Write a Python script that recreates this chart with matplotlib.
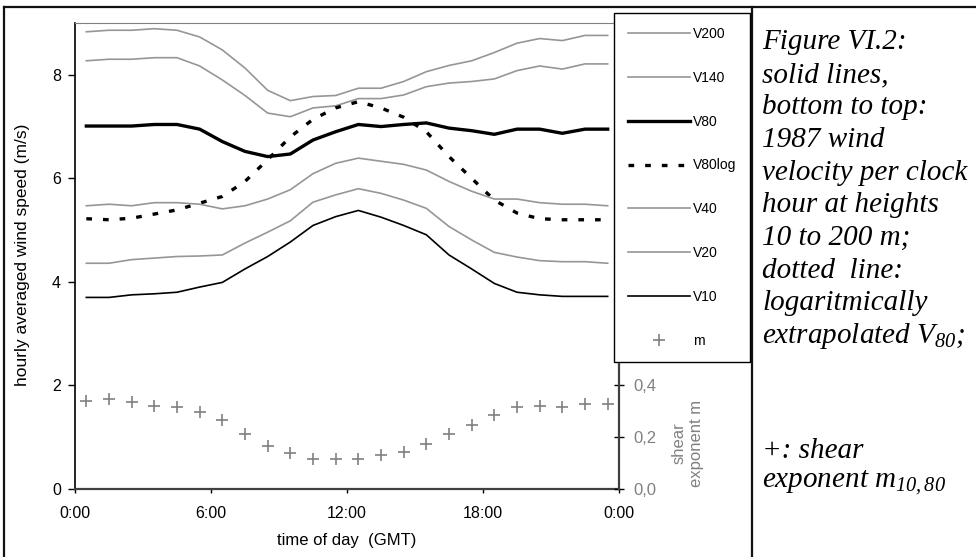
import matplotlib
matplotlib.use("Agg")
import matplotlib.pyplot as plt
from matplotlib.lines import Line2D
import numpy as np

# hourly values, plotted at the middle of each clock hour
hours = np.arange(24) + 0.5

v200 = [8.83, 8.86, 8.86, 8.89, 8.86, 8.73, 8.48, 8.13, 7.70, 7.50, 7.58, 7.60,
        7.74, 7.74, 7.87, 8.06, 8.18, 8.27, 8.43, 8.61, 8.70, 8.66, 8.76, 8.76]
v140 = [8.27, 8.30, 8.30, 8.33, 8.33, 8.17, 7.90, 7.60, 7.26, 7.19, 7.36, 7.40,
        7.54, 7.54, 7.61, 7.77, 7.84, 7.87, 7.92, 8.08, 8.17, 8.11, 8.21, 8.21]
v80 = [7.01, 7.01, 7.01, 7.04, 7.04, 6.95, 6.71, 6.52, 6.42, 6.47, 6.74, 6.90,
       7.04, 7.00, 7.04, 7.07, 6.97, 6.92, 6.85, 6.95, 6.95, 6.87, 6.95, 6.95]
v80log = [5.22, 5.20, 5.23, 5.31, 5.39, 5.52, 5.65, 5.94, 6.36, 6.80, 7.14, 7.36,
          7.48, 7.36, 7.18, 6.90, 6.42, 6.00, 5.58, 5.33, 5.22, 5.20, 5.20, 5.20]
v40 = [5.47, 5.50, 5.47, 5.53, 5.53, 5.50, 5.41, 5.47, 5.60, 5.78, 6.09, 6.29,
       6.39, 6.33, 6.27, 6.16, 5.94, 5.75, 5.60, 5.60, 5.53, 5.50, 5.50, 5.47]
v20 = [4.36, 4.36, 4.43, 4.46, 4.49, 4.50, 4.52, 4.75, 4.96, 5.18, 5.54, 5.68,
       5.80, 5.71, 5.58, 5.42, 5.07, 4.81, 4.57, 4.48, 4.41, 4.39, 4.39, 4.36]
v10 = [3.70, 3.70, 3.75, 3.77, 3.80, 3.90, 3.99, 4.25, 4.49, 4.77, 5.09, 5.26,
       5.38, 5.25, 5.09, 4.91, 4.52, 4.25, 3.97, 3.80, 3.75, 3.72, 3.72, 3.72]
shear_m = [0.341, 0.348, 0.335, 0.322, 0.317, 0.298, 0.267, 0.211, 0.167, 0.138,
           0.116, 0.116, 0.116, 0.131, 0.144, 0.174, 0.211, 0.247, 0.286, 0.316,
           0.322, 0.316, 0.327, 0.327]

xticks = [0, 6, 12, 18, 24]
xticklabels = ["0:00", "6:00", "12:00", "18:00", "0:00"]
yticks = [0, 2, 4, 6, 8]
mticks = [0.0, 0.2, 0.4]
mticklabels = ["0,0", "0,2", "0,4"]

caption = ["Figure VI.2:", "solid lines,", "bottom to top:", "1987 wind",
           "velocity per clock", "hour at heights", "10 to 200 m;",
           "dotted  line:", "logaritmically", r"extrapolated $V_{\mathit{80}}$;",
           "+: shear", r"exponent $m_{\mathit{10,80}}$"]
caption_y = [42, 75, 107, 140, 173, 205, 238, 271, 303, 336, 451, 483]

plt.rcParams["font.family"] = ["Liberation Sans", "DejaVu Sans"]
plt.rcParams["mathtext.fontset"] = "custom"
plt.rcParams["mathtext.rm"] = "Liberation Serif:italic"
plt.rcParams["mathtext.it"] = "Liberation Serif:italic"

W, H = 976, 557
fig = plt.figure(figsize=(W / 100, H / 100), dpi=100)

x0, x1, y_top, y_bot = 75, 619, 23, 489
ax = fig.add_axes([x0 / W, (H - y_bot) / H, (x1 - x0) / W, (y_bot - y_top) / H])

GRAY = "#969696"
ax.plot(hours, v200, color=GRAY, lw=1.2, label="V200")
ax.plot(hours, v140, color=GRAY, lw=1.2, label="V140")
ax.plot(hours, v80, color="black", lw=2.4, label="V80")
ax.plot(hours, v80log, color="black", lw=2.4, dashes=(1.7, 3.3), label="V80log")
ax.plot(hours, v40, color=GRAY, lw=1.2, label="V40")
ax.plot(hours, v20, color=GRAY, lw=1.2, label="V20")
ax.plot(hours, v10, color="black", lw=1.2, label="V10")

ax.set_xlim(0, 24)
ax.set_ylim(0, 9)
ax.set_xticks(xticks)
ax.set_xticklabels(xticklabels)
ax.set_yticks(yticks)
ax.tick_params(labelsize=11.5, width=1, direction="out")
ax.tick_params(axis="x", length=3, pad=9)
ax.tick_params(axis="y", length=5, pad=5)
ax.spines["top"].set_color("#808080")
ax.spines["left"].set_color("black")
ax.spines["left"].set_linewidth(1.2)
ax.spines["bottom"].set_color("#404040")
ax.spines["bottom"].set_linewidth(1.6)
ax.spines["right"].set_visible(False)

ax.set_xlabel("time of day  (GMT)", fontsize=12, va="center")
ax.xaxis.set_label_coords(0.5, -(541 - y_bot) / (y_bot - y_top))
ax.set_ylabel("hourly averaged wind speed (m/s)", fontsize=12.5, va="center")
ax.yaxis.set_label_coords(-(x0 - 23) / (x1 - x0), (y_bot - 255) / (y_bot - y_top))

ax2 = ax.twinx()
ax2.plot(hours, shear_m, ls="none", marker="+", ms=9, mew=1.2,
         color="#808080", label="m")
ax2.set_ylim(0, 1.8)
ax2.set_yticks(mticks)
ax2.set_yticklabels(mticklabels)
ax2.tick_params(axis="y", labelsize=12, labelcolor="#808080", direction="inout",
                length=7, width=1, pad=6.5)
for s in ["top", "left", "bottom"]:
    ax2.spines[s].set_visible(False)
ax2.spines["right"].set_color("#404040")
ax2.spines["right"].set_linewidth(1.6)
ax2.set_ylabel("shear\nexponent m", fontsize=12, color="#808080",
               va="center", ha="center", rotation=90)
ax2.yaxis.set_label_coords((688 - x0) / (x1 - x0), (y_bot - 443) / (y_bot - y_top))

handles = ax.get_lines() + ax2.get_lines()
leg = fig.legend(handles=handles, loc="upper left",
                 bbox_to_anchor=(614 / W, 1 - 13 / H), fontsize=10,
                 handlelength=4.5, handletextpad=0.2, borderpad=1.0,
                 labelspacing=2.15, borderaxespad=0, fancybox=False,
                 framealpha=1, edgecolor="black")
leg.get_frame().set_linewidth(1.0)

# table cell borders around chart and caption
for (xa, xb, ya, yb) in [(4, 976, 7, 7), (4, 4, 7, 557), (752, 752, 7, 557)]:
    fig.add_artist(Line2D([xa / W, xb / W], [1 - ya / H, 1 - yb / H],
                          transform=fig.transFigure, color="#111111", lw=1.6))

for txt, yy in zip(caption, caption_y):
    fig.text(762 / W, 1 - yy / H, txt, family="Liberation Serif",
             style="italic", fontsize=21, va="center", ha="left")

fig.savefig("out.png", dpi=100)
